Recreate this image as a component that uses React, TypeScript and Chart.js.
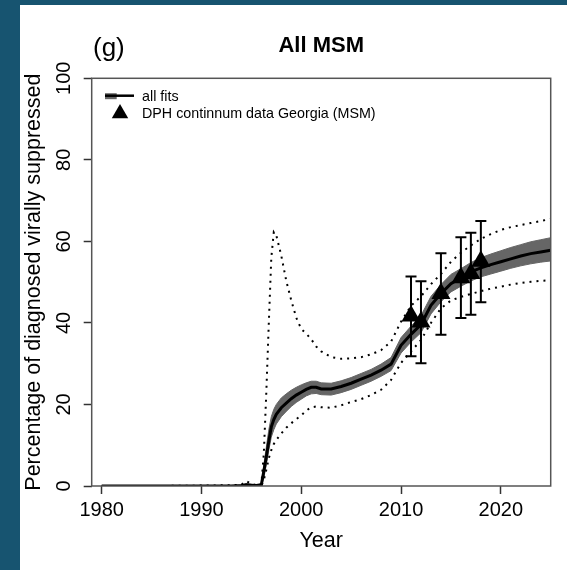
import React, { useEffect, useRef } from "react";
import { Chart, registerables } from "chart.js";

Chart.register(...registerables);

// ---------- data ----------
const fitYears = [
  1980, 1985, 1990, 1993, 1994, 1994.5, 1995, 1995.5,
  1996, 1996.25, 1996.5, 1996.75,
  1997, 1997.25, 1997.5,
  1998, 1998.5, 1999, 1999.5,
  2000, 2000.5, 2001, 2001.5,
  2002, 2003, 2004, 2005, 2006, 2007, 2008, 2009, 2010, 2011, 2012, 2013,
  2014, 2015, 2016, 2017, 2018, 2019, 2020, 2021, 2022, 2023, 2024, 2025,
];
const medianFit = [
  0, 0, 0, 0, 0.1, 0.3, 0.2, 0.1,
  0.3, 3.6, 7.2, 11.0,
  14.5, 16.3, 17.6,
  19.2, 20.3, 21.4, 22.3,
  23.0, 23.7, 24.2, 24.2,
  23.8, 23.8, 24.4, 25.2, 26.2, 27.2, 28.4, 29.9, 34.5, 37.2, 39.6, 44.3,
  47.2, 49.6, 51.1, 52.5, 53.5, 54.3, 55.0, 55.7, 56.4, 57.0, 57.4, 57.8,
];
const bandLower = [
  0, 0, 0, 0, 0, 0.1, 0.1, 0,
  0, 2.0, 5.2, 8.8,
  12.0, 13.8, 15.2,
  17.0, 18.3, 19.5, 20.5,
  21.3, 22.1, 22.6, 22.7,
  22.4, 22.3, 22.9, 23.7, 24.7, 25.7, 26.9, 28.3, 32.6, 35.3, 37.6, 42.2,
  45.2, 47.6, 49.0, 50.3, 51.3, 52.0, 52.7, 53.4, 54.0, 54.5, 54.9, 55.2,
];
const bandUpper = [
  0, 0, 0, 0, 0.2, 0.6, 0.4, 0.2,
  0.6, 5.2, 9.5, 13.8,
  17.0, 18.8, 20.0,
  21.6, 22.6, 23.5, 24.2,
  24.8, 25.3, 25.7, 25.7,
  25.3, 25.2, 25.8, 26.6, 27.6, 28.6, 29.9, 31.5, 36.4, 39.2, 41.8, 46.5,
  49.4, 51.9, 53.3, 54.8, 56.0, 56.9, 57.7, 58.5, 59.2, 59.9, 60.4, 60.9,
];
const upperDotted = [
  0, 0, 0.1, 0.2, 0.3, 1.2, 0.5, 0.2,
  0.3, 8.0, 23.0, 40.0,
  56.0, 62.3, 61.5,
  56.5, 50.3, 45.5, 41.3,
  38.5, 37.4, 36.0, 34.2,
  33.0, 31.6, 31.2, 31.3, 31.6, 32.3, 33.3, 35.4, 40.3, 44.2, 46.5, 49.5,
  52.0, 55.0, 57.2, 59.0, 60.6, 61.8, 62.8, 63.5, 64.0, 64.5, 65.0, 65.5,
];
const lowerDotted = [
  0, 0, 0, 0, 0, 0, 0, 0,
  0, 1.5, 4.0, 6.8,
  8.8, 10.3, 11.3,
  12.9, 14.3, 15.4, 16.4,
  17.3, 18.5, 19.3, 19.5,
  19.3, 19.2, 19.8, 20.6, 21.3, 22.3, 23.6, 26.0, 30.2, 33.0, 35.8, 40.0,
  43.6, 45.5, 46.4, 47.1, 47.8, 48.4, 48.9, 49.4, 49.8, 50.1, 50.3, 50.5,
];

const dataYears = [2011, 2012, 2014, 2016, 2017, 2018];
const dataValues = [41.7, 40.2, 47.2, 51.1, 52.1, 55.1];
const dataLower = [31.8, 30.1, 37.1, 41.2, 42.0, 45.1];
const dataUpper = [51.4, 50.2, 57.1, 61.0, 62.1, 65.0];

const xTickValues = [1980, 1990, 2000, 2010, 2020];
const yTickValues = [0, 20, 40, 60, 80, 100];

const panelTag = "(g)";
const titleText = "All MSM";
const xTitle = "Year";
const yTitle = "Percentage of diagnosed virally suppressed";
const legendFits = "all fits";
const legendData = "DPH continnum data Georgia (MSM)";

const FAMILY = "'Liberation Sans', Arial, Helvetica, sans-serif";

export default function App() {
  const ref = useRef<HTMLCanvasElement>(null);

  useEffect(() => {
    const canvas = ref.current;
    if (!canvas) return;
    const pts = (ys: number[]) => fitYears.map((x, i) => ({ x, y: ys[i] }));

    const decor = {
      id: "decor",
      afterDatasetsDraw(chart: any) {
        const ctx = chart.ctx;
        const xs = chart.scales.x;
        const ys = chart.scales.y;
        ctx.save();
        ctx.strokeStyle = "#000";
        ctx.lineWidth = 2;
        dataYears.forEach((yr, i) => {
          const x = xs.getPixelForValue(yr);
          const t = ys.getPixelForValue(dataUpper[i]);
          const b = ys.getPixelForValue(dataLower[i]);
          ctx.beginPath();
          ctx.moveTo(x, t);
          ctx.lineTo(x, b);
          ctx.moveTo(x - 5.5, t);
          ctx.lineTo(x + 5.5, t);
          ctx.moveTo(x - 5.5, b);
          ctx.lineTo(x + 5.5, b);
          ctx.stroke();
        });
        ctx.restore();
      },
      afterDraw(chart: any) {
        const ctx = chart.ctx;
        const a = chart.chartArea;
        ctx.save();
        // box
        ctx.strokeStyle = "#555";
        ctx.lineWidth = 1.5;
        ctx.strokeRect(a.left, a.top, a.right - a.left, a.bottom - a.top);
        // title
        ctx.fillStyle = "#000";
        ctx.textBaseline = "alphabetic";
        ctx.font = `bold 22px ${FAMILY}`;
        ctx.textAlign = "center";
        ctx.fillText(titleText, (a.left + a.right) / 2, 46.7);
        ctx.font = `26px ${FAMILY}`;
        ctx.textAlign = "left";
        ctx.fillText(panelTag, 73, 51.2);
        // y title
        ctx.save();
        ctx.translate(19.5, (a.top + a.bottom) / 2);
        ctx.rotate(-Math.PI / 2);
        ctx.font = `21.5px ${FAMILY}`;
        ctx.textAlign = "center";
        ctx.fillText(yTitle, 0, 0);
        ctx.restore();
        // legend
        const lx = a.left + 13.3;
        const ly = a.top + 17.4;
        ctx.fillStyle = "#666";
        ctx.fillRect(lx, ly - 2.5, 11.7, 6);
        ctx.strokeStyle = "#000";
        ctx.lineWidth = 2.5;
        ctx.beginPath();
        ctx.moveTo(lx, ly);
        ctx.lineTo(lx + 29, ly);
        ctx.stroke();
        const cx = lx + 15;
        const cy = ly + 17.8;
        const r = 9.5;
        ctx.fillStyle = "#000";
        ctx.beginPath();
        ctx.moveTo(cx, cy - r);
        ctx.lineTo(cx + r * 0.866, cy + r / 2);
        ctx.lineTo(cx - r * 0.866, cy + r / 2);
        ctx.closePath();
        ctx.fill();
        ctx.font = `14.3px ${FAMILY}`;
        ctx.textAlign = "left";
        ctx.textBaseline = "middle";
        ctx.fillText(legendFits, lx + 37, ly + 1);
        ctx.fillText(legendData, lx + 37, cy + 0.5);
        ctx.restore();
      },
    };

    const tickFont = { family: FAMILY, size: 20 };
    const chart = new Chart(canvas, {
      type: "scatter",
      data: {
        datasets: [
          {
            label: "data",
            data: dataYears.map((x, i) => ({ x, y: dataValues[i] })),
            pointStyle: "triangle",
            pointRadius: 11,
            backgroundColor: "#000",
            borderColor: "#000",
            borderWidth: 0,
            showLine: false,
            order: 0,
          },
          {
            label: "median",
            data: pts(medianFit),
            showLine: true,
            borderColor: "#000",
            borderWidth: 3,
            pointRadius: 0,
            tension: 0,
            order: 1,
          },
          {
            label: "upper",
            data: pts(upperDotted),
            showLine: true,
            borderColor: "#000",
            borderWidth: 2,
            borderDash: [2, 5],
            pointRadius: 0,
            order: 2,
          },
          {
            label: "lower",
            data: pts(lowerDotted),
            showLine: true,
            borderColor: "#000",
            borderWidth: 2,
            borderDash: [2, 5],
            pointRadius: 0,
            order: 2,
          },
          {
            label: "band hi",
            data: pts(bandUpper),
            showLine: true,
            borderColor: "#666",
            borderWidth: 1,
            backgroundColor: "#666",
            fill: "+1",
            pointRadius: 0,
            order: 3,
          },
          {
            label: "band lo",
            data: pts(bandLower),
            showLine: true,
            borderColor: "#666",
            borderWidth: 1,
            fill: false,
            pointRadius: 0,
            order: 4,
          },
        ],
      } as any,
      options: {
        responsive: false,
        animation: false,
        events: [],
        layout: { padding: { top: 73.3, right: 16.3, bottom: 0, left: 0 } },
        plugins: {
          legend: { display: false },
          tooltip: { enabled: false },
          title: { display: false },
        },
        scales: {
          x: {
            type: "linear",
            min: 1979,
            max: 2025,
            afterBuildTicks: (s: any) => {
              s.ticks = xTickValues.map((v) => ({ value: v }));
            },
            afterFit: (s: any) => {
              s.height = 84;
            },
            grid: {
              drawOnChartArea: false,
              drawTicks: true,
              tickLength: 8,
              tickWidth: 1.5,
              tickColor: "#333",
            },
            border: { display: false },
            ticks: {
              autoSkip: false,
              maxRotation: 0,
              minRotation: 0,
              padding: 4.5,
              color: "#000",
              font: tickFont,
              callback: (v: any) => String(v),
            },
            title: {
              display: true,
              text: xTitle,
              color: "#000",
              font: { family: FAMILY, size: 21.5 },
              padding: { top: 0, bottom: 16 },
            },
          },
          y: {
            type: "linear",
            min: 0,
            max: 100,
            afterBuildTicks: (s: any) => {
              s.ticks = yTickValues.map((v) => ({ value: v }));
            },
            afterFit: (s: any) => {
              s.width = 71.7;
            },
            grid: {
              drawOnChartArea: false,
              drawTicks: true,
              tickLength: 8,
              tickWidth: 1.5,
              tickColor: "#333",
            },
            border: { display: false },
            ticks: {
              autoSkip: false,
              minRotation: 90,
              maxRotation: 90,
              crossAlign: "center",
              padding: 2.8,
              color: "#000",
              font: tickFont,
              callback: (v: any) => String(v),
            },
          },
        },
      } as any,
      plugins: [decor],
    });

    return () => chart.destroy();
  }, []);

  return (
    <div
      style={{
        position: "fixed",
        left: 0,
        top: 0,
        width: 567,
        height: 570,
        background: "#175470",
        overflow: "hidden",
      }}
    >
      <canvas
        ref={ref}
        width={547}
        height={565}
        style={{
          position: "absolute",
          left: 20,
          top: 5,
          width: 547,
          height: 565,
          background: "#fff",
        }}
      />
    </div>
  );
}
